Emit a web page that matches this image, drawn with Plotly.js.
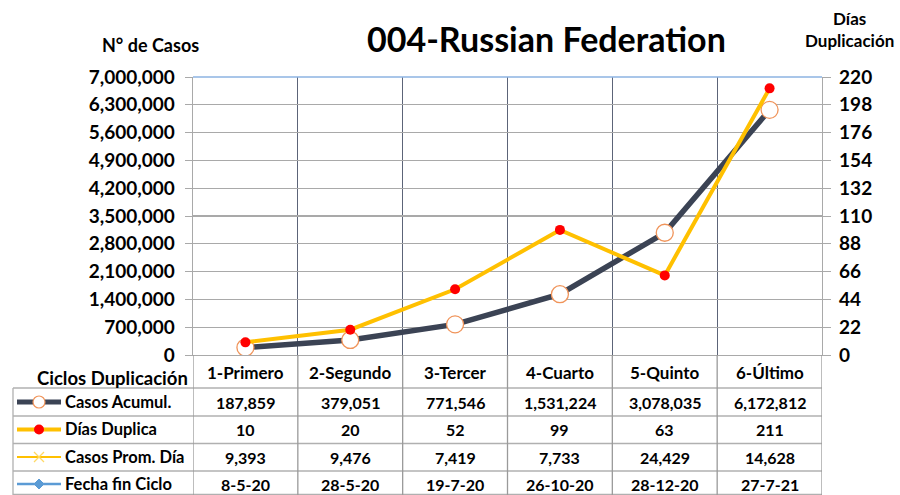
<!DOCTYPE html>
<html>
<head>
<meta charset="utf-8">
<script src="https://cdn.plot.ly/plotly-3.0.1.min.js"></script>
<style>html,body{margin:0;padding:0;background:#fff;}#chart{width:900px;height:495px;}</style>
</head>
<body>
<div id="chart"></div>
<script>
// ---- data ----
const categories = ["1-Primero", "2-Segundo", "3-Tercer", "4-Cuarto", "5-Quinto", "6-Último"];
const casosAcumul = [187859, 379051, 771546, 1531224, 3078035, 6172812];
const diasDuplica = [10, 20, 52, 99, 63, 211];
const casosPromDia = [9393, 9476, 7419, 7733, 24429, 14628];
const fechaFinCiclo = ["8-5-20", "28-5-20", "19-7-20", "26-10-20", "28-12-20", "27-7-21"];
const rowLabels = ["Casos Acumul.", "Días Duplica", "Casos Prom. Día", "Fecha fin Ciclo"];
const leftTicks = [0, 700000, 1400000, 2100000, 2800000, 3500000, 4200000, 4900000, 5600000, 6300000, 7000000];
const rightTicks = [0, 22, 44, 66, 88, 110, 132, 154, 176, 198, 220];

// ---- geometry helpers (pixel -> paper) ----
const W = 900, H = 495;
const M = {l: 193, r: 78, t: 77, b: 140};
const PW = W - M.l - M.r, PH = H - M.t - M.b;
const px = x => (x - M.l) / PW;
const py = y => (H - M.b - y) / PH;

const FONT = "Lato, 'Open Sans', sans-serif";
const DARK = "#3b4354";
const GOLD = "#ffc000";
const fmt = v => v.toLocaleString("en-US");

const traces = [
  {
    x: categories, y: casosAcumul, type: "scatter", mode: "lines+markers",
    name: rowLabels[0], yaxis: "y",
    line: {color: DARK, width: 5.5},
    marker: {symbol: "circle", size: 17, color: "#ffffff", line: {color: "#f0945a", width: 1.3}},
    hoverinfo: "y"
  },
  {
    x: categories, y: diasDuplica, type: "scatter", mode: "lines+markers",
    name: rowLabels[1], yaxis: "y2",
    line: {color: GOLD, width: 4},
    marker: {symbol: "circle", size: 10, color: "#ff0000"},
    hoverinfo: "y"
  }
];

const shapes = [];
const annotations = [];
const gridGray = "#a9a9a9";
const tableGray = "#b0b0b0";

// top border of plot area (light blue)
shapes.push({type: "line", xref: "paper", yref: "paper", x0: 0, x1: 1, y0: 1, y1: 1, line: {color: "#8db3e2", width: 1.3}});

// table horizontal lines
[388, 416, 443.5, 471, 494.5].forEach(y => {
  shapes.push({type: "line", xref: "paper", yref: "paper", x0: px(13), x1: 1, y0: py(y), y1: py(y), line: {color: tableGray, width: 1.3}});
});
// table left border
shapes.push({type: "line", xref: "paper", yref: "paper", x0: px(13), x1: px(13), y0: py(388), y1: py(495), line: {color: tableGray, width: 1.3}});
// table vertical lines at category boundaries
for (let k = 0; k <= categories.length; k++) {
  const xv = k - 0.5;
  shapes.push({type: "line", xref: "x", yref: "paper", x0: xv, x1: xv, y0: py(355), y1: py(495), line: {color: "#9a9a9a", width: 1.3}});
}

// header
annotations.push({xref: "paper", yref: "paper", x: px(190), y: py(378), text: "<b>Ciclos Duplicación</b>", showarrow: false, xanchor: "right", yanchor: "middle", font: {family: FONT, size: 18.5, color: "#000"}});
categories.forEach((c, i) => {
  annotations.push({xref: "x", yref: "paper", x: i, y: py(372), text: "<b>" + c + "</b>", showarrow: false, xanchor: "center", yanchor: "middle", font: {family: FONT, size: 17, color: "#000"}});
});

// table rows
const rowY = [402, 429.5, 457, 484];
const rowValues = [casosAcumul.map(fmt), diasDuplica.map(String), casosPromDia.map(fmt), fechaFinCiclo];
rowLabels.forEach((lab, r) => {
  annotations.push({xref: "paper", yref: "paper", x: px(63), y: py(rowY[r]), text: "<b>" + lab + "</b>", showarrow: false, xanchor: "left", yanchor: "middle", font: {family: FONT, size: 16.5, color: "#000"}});
  rowValues[r].forEach((v, i) => {
    annotations.push({xref: "x", yref: "paper", x: i, y: py(rowY[r]), text: "<b>" + v + "</b>", showarrow: false, xanchor: "center", yanchor: "middle", font: {family: FONT, size: 16, color: "#000"}});
  });
});

// legend keys in the table
const keyX0 = px(17), keyX1 = px(61), keyC = px(39);
// row 1: dark line + open circle
shapes.push({type: "line", xref: "paper", yref: "paper", x0: keyX0, x1: keyX1, y0: py(rowY[0]), y1: py(rowY[0]), line: {color: DARK, width: 5}});
shapes.push({type: "circle", xref: "paper", yref: "paper", xsizemode: "pixel", ysizemode: "pixel", xanchor: keyC, yanchor: py(rowY[0]), x0: -6, x1: 6, y0: -6, y1: 6, fillcolor: "#fff", line: {color: "#f0945a", width: 1.2}});
// row 2: gold line + red dot
shapes.push({type: "line", xref: "paper", yref: "paper", x0: keyX0, x1: keyX1, y0: py(rowY[1]), y1: py(rowY[1]), line: {color: GOLD, width: 4}});
shapes.push({type: "circle", xref: "paper", yref: "paper", xsizemode: "pixel", ysizemode: "pixel", xanchor: keyC, yanchor: py(rowY[1]), x0: -5, x1: 5, y0: -5, y1: 5, fillcolor: "#ff0000", line: {width: 0}});
// row 3: thin gold line + x
shapes.push({type: "line", xref: "paper", yref: "paper", x0: keyX0, x1: keyX1, y0: py(rowY[2]), y1: py(rowY[2]), line: {color: GOLD, width: 2}});
shapes.push({type: "path", xref: "paper", yref: "paper", xsizemode: "pixel", ysizemode: "pixel", xanchor: keyC, yanchor: py(rowY[2]), path: "M-5,-5L5,5M-5,5L5,-5", line: {color: "#ffd966", width: 1.3}});
// row 4: blue line + diamond
shapes.push({type: "line", xref: "paper", yref: "paper", x0: keyX0, x1: keyX1, y0: py(rowY[3]), y1: py(rowY[3]), line: {color: "#5b9bd5", width: 2.5}});
shapes.push({type: "path", xref: "paper", yref: "paper", xsizemode: "pixel", ysizemode: "pixel", xanchor: keyC, yanchor: py(rowY[3]), path: "M0,5L5,0L0,-5L-5,0Z", fillcolor: "#5b9bd5", line: {color: "#5b9bd5", width: 1}});

// titles
annotations.push({xref: "paper", yref: "paper", x: px(546), y: py(39), text: "<b>004-Russian Federation</b>", showarrow: false, xanchor: "center", yanchor: "middle", font: {family: FONT, size: 34, color: "#000"}});
annotations.push({xref: "paper", yref: "paper", x: px(150), y: py(45), text: "<b>N° de Casos</b>", showarrow: false, xanchor: "center", yanchor: "middle", font: {family: FONT, size: 18, color: "#000"}});
annotations.push({xref: "paper", yref: "paper", x: px(849), y: py(30), text: "<b>Días<br>Duplicación</b>", showarrow: false, xanchor: "center", yanchor: "middle", font: {family: FONT, size: 17, color: "#000"}});

const layout = {
  width: W, height: H,
  margin: M,
  paper_bgcolor: "#fff", plot_bgcolor: "#fff",
  showlegend: false,
  font: {family: FONT, color: "#000"},
  xaxis: {
    type: "category", tickson: "boundaries",
    showgrid: true, gridcolor: "#5c6478", gridwidth: 1.2,
    showline: true, linecolor: gridGray, linewidth: 1.3,
    ticks: "", showticklabels: false,
    range: [-0.5, 5.5], fixedrange: true
  },
  yaxis: {
    range: [0, 7000000], tickvals: leftTicks, ticktext: leftTicks.map(fmt),
    showgrid: true, gridcolor: gridGray, gridwidth: 1.2,
    showline: true, linecolor: gridGray, linewidth: 1.3,
    ticks: "outside", ticklen: 7, tickcolor: gridGray,
    ticklabelstandoff: 6,
    tickfont: {family: FONT, size: 19, color: "#000", weight: "bold"},
    zeroline: false, fixedrange: true
  },
  yaxis2: {
    range: [0, 220], tickvals: rightTicks, ticktext: rightTicks.map(String),
    overlaying: "y", side: "right",
    showgrid: false,
    showline: true, linecolor: gridGray, linewidth: 1.3,
    ticks: "outside", ticklen: 8, tickcolor: gridGray,
    ticklabelstandoff: 4,
    tickfont: {family: FONT, size: 19, color: "#000", weight: "bold"},
    zeroline: false, fixedrange: true
  },
  shapes: shapes,
  annotations: annotations
};

Plotly.newPlot("chart", traces, layout, {displayModeBar: false, staticPlot: true});
</script>
</body>
</html>
